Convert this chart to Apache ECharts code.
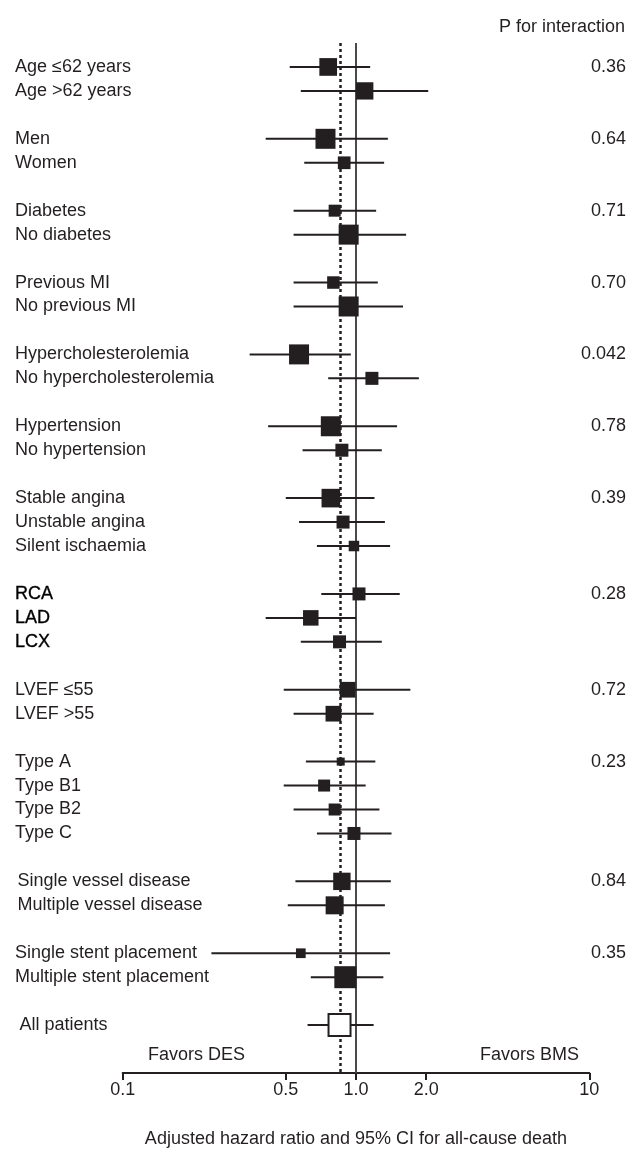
<!DOCTYPE html>
<html>
<head>
<meta charset="utf-8">
<script src="https://cdn.jsdelivr.net/npm/echarts@6/dist/echarts.min.js"></script>
<style>html,body{margin:0;padding:0;background:#fff;}#c{width:633px;height:1150px;}</style>
</head>
<body>
<div id="c"></div>
<script>
// ---- data ----
const labels = [
  'Age \u226462 years', 'Age >62 years',
  'Men', 'Women',
  'Diabetes', 'No diabetes',
  'Previous MI', 'No previous MI',
  'Hypercholesterolemia', 'No hypercholesterolemia',
  'Hypertension', 'No hypertension',
  'Stable angina', 'Unstable angina', 'Silent ischaemia',
  'RCA', 'LAD', 'LCX',
  'LVEF \u226455', 'LVEF >55',
  'Type A', 'Type B1', 'Type B2', 'Type C',
  'Single vessel disease', 'Multiple vessel disease',
  'Single stent placement', 'Multiple stent placement',
  'All patients'
];
const groupSizes = [2, 2, 2, 2, 2, 2, 3, 3, 2, 4, 2, 2, 1];
const pValues = ['0.36', '0.64', '0.71', '0.70', '0.042', '0.78', '0.39', '0.28', '0.72', '0.23', '0.84', '0.35', ''];
const hr    = [0.76, 1.09, 0.74, 0.89, 0.81, 0.93, 0.80, 0.93, 0.57, 1.17, 0.78, 0.87, 0.78, 0.88, 0.98, 1.03, 0.64, 0.85, 0.92, 0.80, 0.86, 0.73, 0.81, 0.98, 0.87, 0.81, 0.58, 0.90, 0.85];
const lower = [0.52, 0.58, 0.41, 0.60, 0.54, 0.54, 0.54, 0.54, 0.35, 0.76, 0.42, 0.59, 0.50, 0.57, 0.68, 0.71, 0.41, 0.58, 0.49, 0.54, 0.61, 0.49, 0.54, 0.68, 0.55, 0.51, 0.24, 0.64, 0.62];
const upper = [1.15, 2.04, 1.37, 1.32, 1.22, 1.64, 1.24, 1.59, 0.95, 1.86, 1.50, 1.29, 1.20, 1.33, 1.40, 1.54, 1.00, 1.29, 1.71, 1.19, 1.21, 1.10, 1.26, 1.42, 1.41, 1.33, 1.40, 1.31, 1.19];
const weight = [17.7, 17.3, 20, 12.7, 12, 20, 12.5, 20, 20, 13, 20, 13, 18.6, 13, 10.5, 13, 15.5, 13, 15.7, 15.7, 8, 12, 12, 13, 17.4, 18, 9.7, 22, 22];
const overallHR = 0.86;
const xTicks = [0.1, 0.5, 1, 2, 10];
const xTickLabels = ['0.1', '0.5', '1.0', '2.0', '10'];

// ---- build rows (with blank spacer rows between groups) ----
const categories = ['_top'];
const pByRow = [''];
const rowIndexOfLabel = [];
let li = 0, gapN = 0;
groupSizes.forEach(function (n, g) {
  for (let k = 0; k < n; k++) {
    rowIndexOfLabel.push(categories.length);
    categories.push(labels[li]);
    pByRow.push(k === 0 ? pValues[g] : '');
    li++;
  }
  if (g < groupSizes.length - 1) { categories.push('_gap' + (gapN++)); pByRow.push(''); }
});
categories.push('_b1'); pByRow.push('');
categories.push('_b2'); pByRow.push('');

const boldSet = {'RCA': 1, 'LAD': 1, 'LCX': 1};
const indentSet = {'Single vessel disease': 1, 'Multiple vessel disease': 1, 'All patients': 2};

const seriesData = labels.map(function (l, i) {
  return [hr[i], lower[i], upper[i], rowIndexOfLabel[i], weight[i], l === 'All patients' ? 1 : 0];
});

const FONT = 'Liberation Sans, Arial, sans-serif';
const FS = 18;
const INK = '#231f20';

const chart = echarts.init(document.getElementById('c'), null, {renderer: 'canvas'});
const option = {
  backgroundColor: '#fff',
  animation: false,
  title: {
    text: 'P for interaction', right: 3, top: 13,
    textStyle: {fontFamily: FONT, fontSize: FS, fontWeight: 'normal', color: INK}
  },
  grid: {left: 122.7, right: 43.7, top: 43, bottom: 77, outerBoundsMode: 'none', containLabel: false},
  xAxis: {
    type: 'log', logBase: 10, min: 0.1, max: 10,
    name: 'Adjusted hazard ratio and 95% CI for all-cause death',
    nameLocation: 'middle', nameGap: 57,
    nameTextStyle: {fontFamily: FONT, fontSize: FS, color: INK},
    axisLine: {show: true, lineStyle: {color: INK, width: 2}},
    axisTick: {show: true, customValues: xTicks, length: 7, lineStyle: {color: INK, width: 2}},
    minorTick: {show: false},
    splitLine: {show: false},
    axisLabel: {
      customValues: xTicks, margin: 8,
      fontFamily: FONT, fontSize: FS, color: INK,
      formatter: function (v) {
        for (let i = 0; i < xTicks.length; i++) if (Math.abs(xTicks[i] - v) < 1e-9) return xTickLabels[i];
        return '';
      }
    }
  },
  yAxis: [{
    type: 'category', data: categories, inverse: true, boundaryGap: false,
    axisLine: {show: false}, axisTick: {show: false}, splitLine: {show: false},
    axisLabel: {
      interval: 0, align: 'left', margin: 107.7,
      fontFamily: FONT, fontSize: FS, color: INK,
      formatter: function (v) {
        if (v.charAt(0) === '_') return '';
        if (boldSet[v]) return '{b|' + v + '}';
        if (indentSet[v] === 1) return '{i1|' + v + '}';
        if (indentSet[v] === 2) return '{i2|' + v + '}';
        return v;
      },
      rich: {
        b: {fontFamily: FONT, fontSize: FS, color: '#000', textBorderColor: '#000', textBorderWidth: 0.35},
        i1: {fontFamily: FONT, fontSize: FS, color: INK, padding: [0, 0, 0, 2.5]},
        i2: {fontFamily: FONT, fontSize: FS, color: INK, padding: [0, 0, 0, 4.5]}
      }
    }
  }, {
    type: 'category', data: categories, inverse: true, boundaryGap: false, position: 'right',
    axisLine: {show: false}, axisTick: {show: false}, splitLine: {show: false},
    axisLabel: {
      interval: 0, align: 'right', margin: 36.7,
      fontFamily: FONT, fontSize: FS, color: INK,
      formatter: function (v, idx) { return pByRow[idx] || ''; }
    }
  }],
  graphic: [
    {type: 'text', left: 148, top: 1046, style: {text: 'Favors DES', font: FS + 'px ' + FONT, fill: INK}},
    {type: 'text', right: 54, top: 1046, style: {text: 'Favors BMS', font: FS + 'px ' + FONT, fill: INK}}
  ],
  series: [{
    type: 'line', data: [], z: 1, silent: true,
    markLine: {
      silent: true, symbol: 'none', label: {show: false}, animation: false,
      data: [
        {xAxis: 1, lineStyle: {color: '#4a4a4a', width: 2, type: 'solid'}},
        {xAxis: overallHR, lineStyle: {color: INK, width: 2.5, type: [3, 3]}}
      ]
    }
  }, {
    type: 'custom', z: 5, silent: true,
    encode: {x: [0, 1, 2], y: 3},
    data: seriesData,
    renderItem: function (params, api) {
      const row = api.value(3);
      const pc = api.coord([api.value(0), row]);
      const pl = api.coord([api.value(1), row]);
      const ph = api.coord([api.value(2), row]);
      const s = api.value(4);
      const open = api.value(5) === 1;
      return {
        type: 'group',
        children: [
          {type: 'line', shape: {x1: pl[0], y1: pl[1], x2: ph[0], y2: ph[1]}, style: {stroke: INK, lineWidth: 2}},
          {type: 'rect', shape: {x: pc[0] - s / 2, y: pc[1] - s / 2, width: s, height: s},
           style: {fill: open ? '#fff' : INK, stroke: INK, lineWidth: open ? 2 : 0}}
        ]
      };
    }
  }]
};
chart.setOption(option);
</script>
</body>
</html>
